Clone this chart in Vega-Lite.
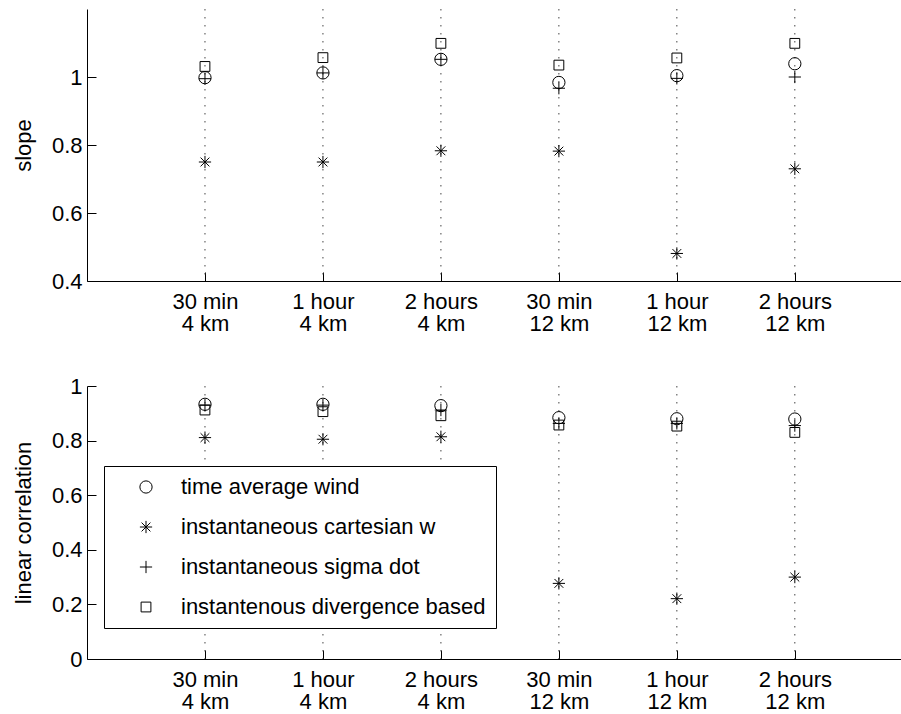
{
  "$schema": "https://vega.github.io/schema/vega-lite/v6.json",
  "background": "white",
  "padding": {"left": 12, "top": 8, "right": 0, "bottom": 0},
  "spacing": 41,
  "config": {
    "font": "Liberation Sans",
    "view": {"stroke": null},
    "axis": {
      "labelFont": "Liberation Sans", "labelFontSize": 22, "labelColor": "black",
      "titleFont": "Liberation Sans", "titleFontSize": 22, "titleFontWeight": "normal", "titleColor": "black",
      "domainColor": "black", "domainWidth": 1, "tickColor": "black", "tickWidth": 1, "tickSize": -9,
      "grid": false
    },
    "axisY": {"labelPadding": 14, "titlePadding": 16},
    "axisX": {"labelPadding": 19, "labelLineHeight": 22, "labelFlush": false, "labelOverlap": false},
    "legend": {
      "labelFont": "Liberation Sans", "labelFontSize": 22, "labelColor": "black", "labelLimit": 0,
      "fillColor": "white", "strokeColor": "black", "padding": 10,
      "symbolSize": 150, "symbolStrokeColor": "black", "symbolFillColor": "transparent", "symbolStrokeWidth": 1,
      "symbolOffset": 21, "labelOffset": 24, "rowPadding": 18
    }
  },
  "resolve": {"legend": {"shape": "independent"}},
  "vconcat": [
    {
      "width": 814,
      "height": 272,
      "layer": [
        {
          "data": {"values": [{"pos": 1}, {"pos": 2}, {"pos": 3}, {"pos": 4}, {"pos": 5}, {"pos": 6}]},
          "mark": {"type": "rule", "color": "#444", "strokeDash": [1.5, 6.5], "strokeWidth": 1},
          "encoding": {"x": {"field": "pos", "type": "quantitative"}}
        },
        {
          "data": {"values": [{"ref": 1}]},
          "mark": {"type": "rule", "color": "black", "strokeWidth": 1},
          "encoding": {"y": {"field": "ref", "type": "quantitative"}}
        },
        {
          "data": {"values": [
            {"pos": 1, "series": "time average wind", "value": 0.998},
            {"pos": 1, "series": "instantaneous cartesian w", "value": 0.75},
            {"pos": 1, "series": "instantaneous sigma dot", "value": 0.995},
            {"pos": 1, "series": "instantenous divergence based", "value": 1.031},
            {"pos": 2, "series": "time average wind", "value": 1.012},
            {"pos": 2, "series": "instantaneous cartesian w", "value": 0.75},
            {"pos": 2, "series": "instantaneous sigma dot", "value": 1.012},
            {"pos": 2, "series": "instantenous divergence based", "value": 1.057},
            {"pos": 3, "series": "time average wind", "value": 1.052},
            {"pos": 3, "series": "instantaneous cartesian w", "value": 0.783},
            {"pos": 3, "series": "instantaneous sigma dot", "value": 1.052},
            {"pos": 3, "series": "instantenous divergence based", "value": 1.099},
            {"pos": 4, "series": "time average wind", "value": 0.984},
            {"pos": 4, "series": "instantaneous cartesian w", "value": 0.782},
            {"pos": 4, "series": "instantaneous sigma dot", "value": 0.967},
            {"pos": 4, "series": "instantenous divergence based", "value": 1.035},
            {"pos": 5, "series": "time average wind", "value": 1.004},
            {"pos": 5, "series": "instantaneous cartesian w", "value": 0.481},
            {"pos": 5, "series": "instantaneous sigma dot", "value": 0.996},
            {"pos": 5, "series": "instantenous divergence based", "value": 1.056},
            {"pos": 6, "series": "time average wind", "value": 1.039},
            {"pos": 6, "series": "instantaneous cartesian w", "value": 0.73},
            {"pos": 6, "series": "instantaneous sigma dot", "value": 1.0},
            {"pos": 6, "series": "instantenous divergence based", "value": 1.099}
          ]},
          "mark": {"type": "point", "filled": false, "stroke": "black", "strokeWidth": 1, "opacity": 1, "size": 150},
          "encoding": {
            "x": {"field": "pos", "type": "quantitative"},
            "y": {"field": "value", "type": "quantitative"},
            "shape": {
              "field": "series", "type": "nominal",
              "scale": {
                "domain": ["time average wind", "instantaneous cartesian w", "instantaneous sigma dot", "instantenous divergence based"],
                "range": ["circle", "M-1,0L1,0M0,-1L0,1M-0.72,-0.72L0.72,0.72M-0.72,0.72L0.72,-0.72", "M-1,0L1,0M0,-1L0,1", "M-0.8,-0.8L0.8,-0.8L0.8,0.8L-0.8,0.8Z"]
              },
              "legend": null
            }
          }
        }
      ],
      "encoding": {
        "x": {
          "field": "pos", "type": "quantitative",
          "scale": {"domain": [0, 6.9], "nice": false, "zero": false},
          "axis": {
            "title": null, "values": [1, 2, 3, 4, 5, 6],
            "labelExpr": "[['30 min','4 km'],['1 hour','4 km'],['2 hours','4 km'],['30 min','12 km'],['1 hour','12 km'],['2 hours','12 km']][datum.value-1]"
          }
        },
        "y": {
          "type": "quantitative",
          "scale": {"domain": [0.4, 1.2], "nice": false, "zero": false},
          "axis": {"title": "slope", "values": [0.4, 0.6, 0.8, 1], "format": "~g"}
        }
      }
    },
    {
      "width": 814,
      "height": 273,
      "layer": [
        {
          "data": {"values": [{"pos": 1}, {"pos": 2}, {"pos": 3}, {"pos": 4}, {"pos": 5}, {"pos": 6}]},
          "mark": {"type": "rule", "color": "#444", "strokeDash": [1.5, 6.5], "strokeWidth": 1},
          "encoding": {"x": {"field": "pos", "type": "quantitative"}}
        },
        {
          "data": {"values": [
            {"pos": 1, "series": "time average wind", "value": 0.933},
            {"pos": 1, "series": "instantaneous cartesian w", "value": 0.811},
            {"pos": 1, "series": "instantaneous sigma dot", "value": 0.93},
            {"pos": 1, "series": "instantenous divergence based", "value": 0.912},
            {"pos": 2, "series": "time average wind", "value": 0.933},
            {"pos": 2, "series": "instantaneous cartesian w", "value": 0.805},
            {"pos": 2, "series": "instantaneous sigma dot", "value": 0.93},
            {"pos": 2, "series": "instantenous divergence based", "value": 0.906},
            {"pos": 3, "series": "time average wind", "value": 0.928},
            {"pos": 3, "series": "instantaneous cartesian w", "value": 0.814},
            {"pos": 3, "series": "instantaneous sigma dot", "value": 0.912},
            {"pos": 3, "series": "instantenous divergence based", "value": 0.891},
            {"pos": 4, "series": "time average wind", "value": 0.884},
            {"pos": 4, "series": "instantaneous cartesian w", "value": 0.277},
            {"pos": 4, "series": "instantaneous sigma dot", "value": 0.863},
            {"pos": 4, "series": "instantenous divergence based", "value": 0.857},
            {"pos": 5, "series": "time average wind", "value": 0.88},
            {"pos": 5, "series": "instantaneous cartesian w", "value": 0.221},
            {"pos": 5, "series": "instantaneous sigma dot", "value": 0.863},
            {"pos": 5, "series": "instantenous divergence based", "value": 0.853},
            {"pos": 6, "series": "time average wind", "value": 0.879},
            {"pos": 6, "series": "instantaneous cartesian w", "value": 0.3},
            {"pos": 6, "series": "instantaneous sigma dot", "value": 0.855},
            {"pos": 6, "series": "instantenous divergence based", "value": 0.83}
          ]},
          "mark": {"type": "point", "filled": false, "stroke": "black", "strokeWidth": 1, "opacity": 1, "size": 150},
          "encoding": {
            "x": {"field": "pos", "type": "quantitative"},
            "y": {"field": "value", "type": "quantitative"},
            "shape": {
              "field": "series", "type": "nominal",
              "scale": {
                "domain": ["time average wind", "instantaneous cartesian w", "instantaneous sigma dot", "instantenous divergence based"],
                "range": ["circle", "M-1,0L1,0M0,-1L0,1M-0.72,-0.72L0.72,0.72M-0.72,0.72L0.72,-0.72", "M-1,0L1,0M0,-1L0,1", "M-0.8,-0.8L0.8,-0.8L0.8,0.8L-0.8,0.8Z"]
              },
              "legend": {"title": null, "orient": "none", "legendX": 17, "legendY": 80}
            }
          }
        }
      ],
      "encoding": {
        "x": {
          "field": "pos", "type": "quantitative",
          "scale": {"domain": [0, 6.9], "nice": false, "zero": false},
          "axis": {
            "title": null, "values": [1, 2, 3, 4, 5, 6],
            "labelExpr": "[['30 min','4 km'],['1 hour','4 km'],['2 hours','4 km'],['30 min','12 km'],['1 hour','12 km'],['2 hours','12 km']][datum.value-1]"
          }
        },
        "y": {
          "type": "quantitative",
          "scale": {"domain": [0, 1], "nice": false, "zero": false},
          "axis": {"title": "linear correlation", "values": [0, 0.2, 0.4, 0.6, 0.8, 1], "format": "~g"}
        }
      }
    }
  ]
}
